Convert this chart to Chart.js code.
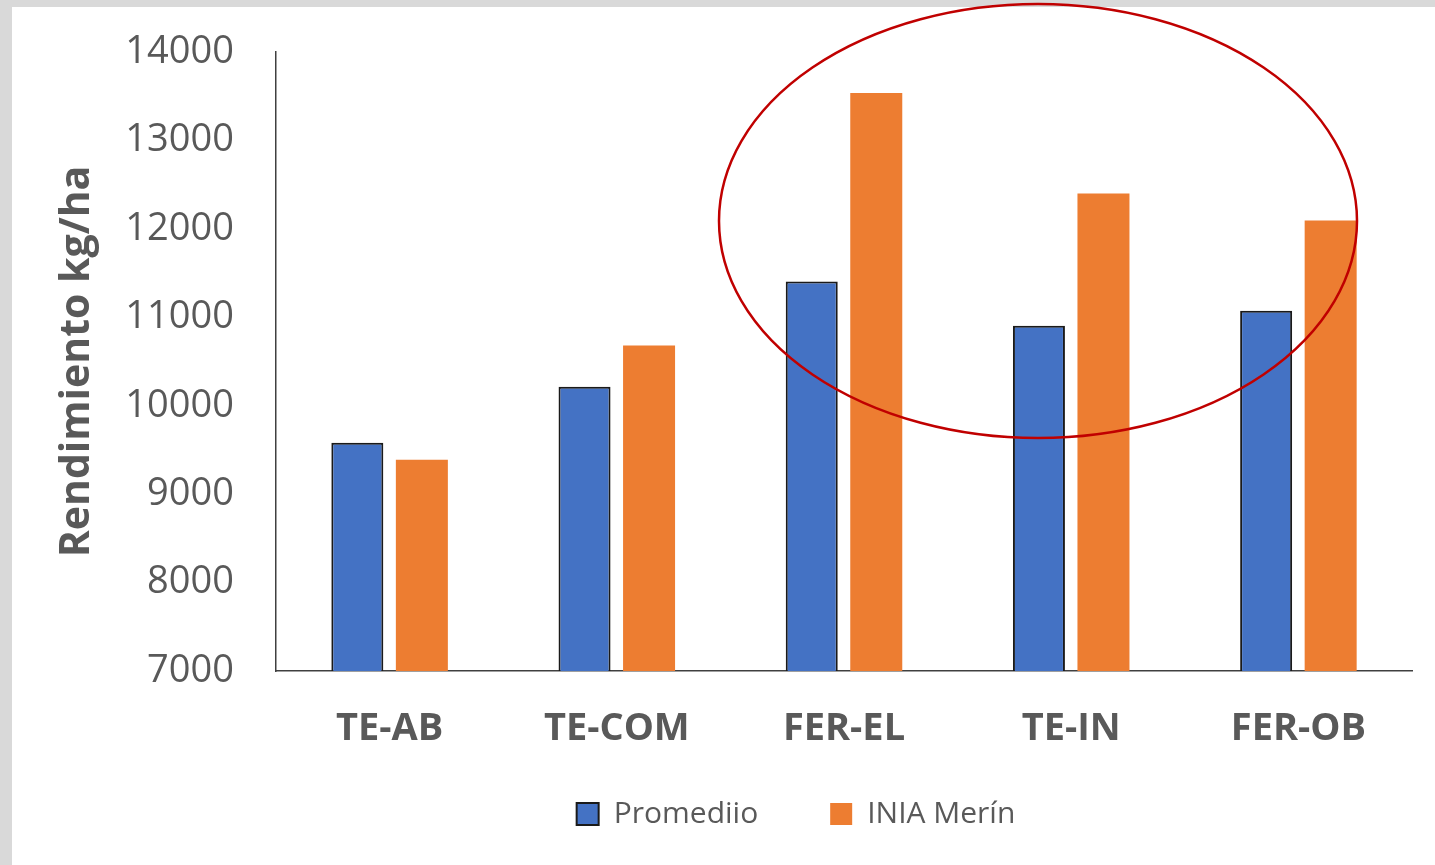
<!DOCTYPE html>
<html>
<head>
<meta charset="utf-8">
<script src="https://cdn.jsdelivr.net/npm/chart.js@4.4.1/dist/chart.umd.min.js"></script>
<style>
  html, body { margin: 0; padding: 0; background: #d9d9d9; }
  #panel { position: absolute; left: 12px; top: 7px; right: 0; bottom: 0; background: #ffffff; }
  #wrap { position: absolute; left: 0; top: 0; width: 1435px; height: 865px; }
</style>
</head>
<body>
<div id="panel"></div>
<div id="wrap"><canvas id="chart" width="1435" height="865"></canvas></div>
<script>
// categories and series
const categories = ['TE-AB', 'TE-COM', 'FER-EL', 'TE-IN', 'FER-OB'];
const promedio = [9580, 10215, 11405, 10905, 11075];
const iniaMerin = [9390, 10680, 13535, 12400, 12095];
const yTicks = [7000, 8000, 9000, 10000, 11000, 12000, 13000, 14000];

const textColor = '#595959';
const axisColor = '#404040';

// red ellipse drawn over the plot, as in the reference
const highlightEllipse = {
  id: 'highlightEllipse',
  afterDatasetsDraw(chart) {
    const ctx = chart.ctx;
    ctx.save();
    ctx.beginPath();
    ctx.ellipse(1038, 221, 319, 217, 0, 0, Math.PI * 2);
    ctx.strokeStyle = '#c00000';
    ctx.lineWidth = 2.5;
    ctx.stroke();
    ctx.restore();
  }
};

// shift legend to sit where the original one does
const legendShift = {
  id: 'legendShift',
  afterLayout(chart) {
    const l = chart.legend;
    if (l) {
      l.left += 90;
      l.right += 90;
      l.top -= 16;
      l.bottom -= 16;
    }
  }
};

new Chart(document.getElementById('chart'), {
  type: 'bar',
  data: {
    labels: categories,
    datasets: [
      {
        label: 'Promediio',
        data: promedio,
        backgroundColor: '#4472c4',
        borderColor: '#1a1a1a',
        borderWidth: 2,
        categoryPercentage: 0.568,
        barPercentage: 0.806
      },
      {
        label: 'INIA Merín',
        data: iniaMerin,
        backgroundColor: '#ed7d31',
        borderWidth: 0,
        categoryPercentage: 0.568,
        barPercentage: 0.806
      }
    ]
  },
  options: {
    responsive: false,
    animation: false,
    layout: { padding: { top: 52, right: 23, bottom: 10, left: 0 } },
    plugins: {
      tooltip: { enabled: false },
      legend: {
        position: 'bottom',
        labels: {
          color: textColor,
          font: { family: 'Open Sans', size: 30 },
          boxWidth: 22,
          boxHeight: 22,
          padding: 72
        }
      }
    },
    scales: {
      x: {
        grid: { display: false },
        border: { display: true, color: axisColor, width: 1.5 },
        ticks: {
          color: textColor,
          font: { family: 'Open Sans', size: 38, weight: 'bold' },
          padding: 27,
          maxRotation: 0
        },
        afterFit(scale) { scale.height = 72; }
      },
      y: {
        min: 7000,
        max: 14000,
        afterBuildTicks(scale) { scale.ticks = yTicks.map(v => ({ value: v })); },
        grid: { display: false, drawTicks: true, tickLength: 40 },
        border: { display: true, color: axisColor, width: 1.5 },
        ticks: {
          color: textColor,
          font: { family: 'Open Sans', size: 38 },
          padding: 2,
          callback: v => String(v)
        },
        title: {
          display: true,
          text: 'Rendimiento kg/ha',
          color: textColor,
          font: { family: 'Open Sans', size: 41, weight: 'bold' },
          padding: { top: 53, bottom: 0 }
        },
        afterFit(scale) { scale.width = 276; }
      }
    }
  },
  plugins: [highlightEllipse, legendShift]
});
</script>
</body>
</html>
